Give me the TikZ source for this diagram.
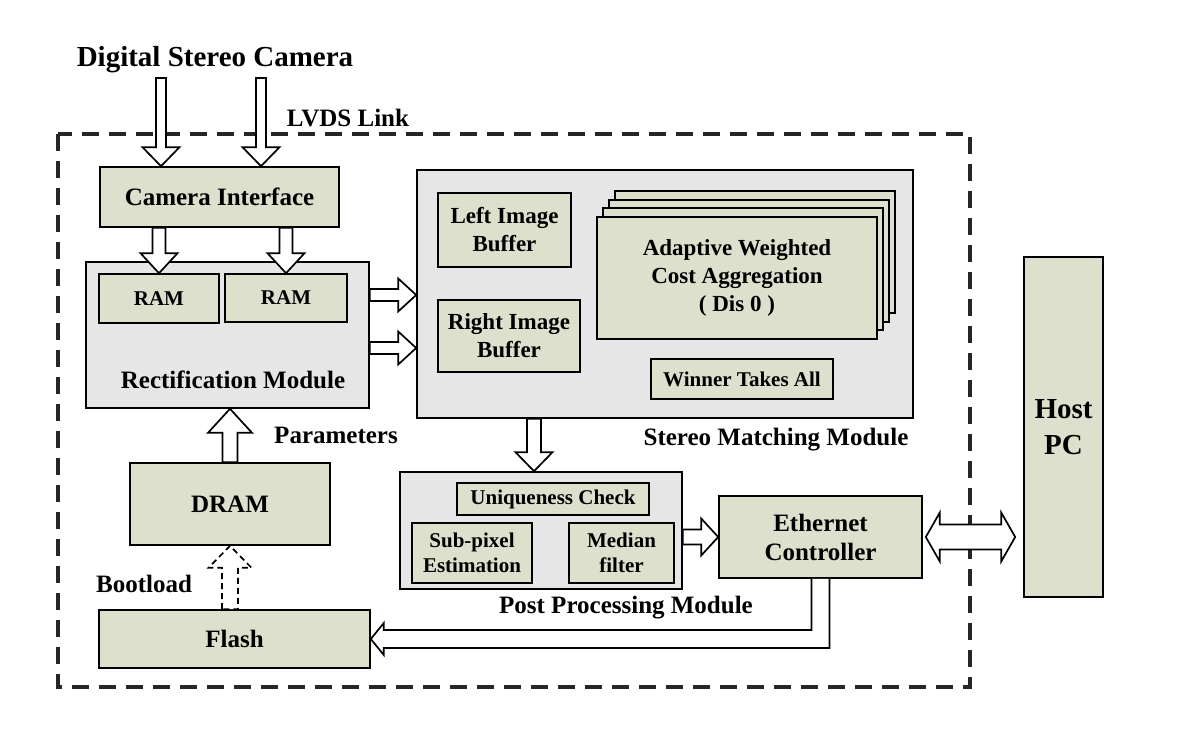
\documentclass[tikz,border=0pt]{standalone}
\usepackage{fontspec}
\setmainfont{Liberation Serif}
\usetikzlibrary{calc}
\definecolor{boxgreen}{RGB}{221,224,204}
\definecolor{modgray}{RGB}{230,230,230}
\tikzset{
  fa/.style={font=\bfseries\fontsize{25}{29}\selectfont},
  fb/.style={font=\bfseries\fontsize{23}{28}\selectfont},
  fc/.style={font=\bfseries\fontsize{21}{25}\selectfont},
  fd/.style={font=\bfseries\fontsize{29}{36}\selectfont},
  gbox/.style={draw=black, line width=1.6pt, fill=boxgreen, align=center, inner sep=0pt, fa},
  mbox/.style={draw=black, line width=1.6pt, fill=modgray, inner sep=0pt},
  lbl/.style={anchor=base, inner sep=0pt, fa},
  frame/.style={draw=black!85, line width=4pt, dash pattern=on 17pt off 10pt},
  blockarrow/.style={draw=black, line width=1.7pt, fill=white, line join=miter},
}
% #1 options, #2 start, #3 tip, #4 shaft half width, #5 head half width, #6 head length
\newcommand\barrow[6][]{%
  \coordinate (baS) at (#2);
  \coordinate (baT) at (#3);
  \coordinate (baB) at ($(baT)!#6!(baS)$);
  \draw[blockarrow,#1] ($(baS)!#4!90:(baT)$) -- ($(baB)!#4!90:(baT)$) -- ($(baB)!#5!90:(baT)$)
    -- (baT) -- ($(baB)!#5!-90:(baT)$) -- ($(baB)!#4!-90:(baT)$) -- ($(baS)!#4!-90:(baT)$) -- cycle;}
% #1 start, #2 end, #3 shaft half width, #4 head half width, #5 head length
\newcommand\dbarrow[5]{%
  \coordinate (baS) at (#1);
  \coordinate (baT) at (#2);
  \coordinate (baP) at ($(baS)!#5!(baT)$);
  \coordinate (baQ) at ($(baT)!#5!(baS)$);
  \draw[blockarrow] (baS) -- ($(baP)!#4!90:(baT)$) -- ($(baP)!#3!90:(baT)$) -- ($(baQ)!#3!-90:(baS)$)
    -- ($(baQ)!#4!-90:(baS)$) -- (baT) -- ($(baQ)!#4!90:(baS)$) -- ($(baQ)!#3!90:(baS)$)
    -- ($(baP)!#3!-90:(baT)$) -- ($(baP)!#4!-90:(baT)$) -- cycle;}
\begin{document}
\begin{tikzpicture}[x=1pt,y=-1pt]
\fill[white] (0,0) rectangle (1200,738);
\useasboundingbox (0,0) rectangle (1200,738);
% outer dashed frame
\draw[frame] (58,134) rectangle (970,687);
% labels
\node[lbl,fd] (title) at (215,67) {Digital Stereo Camera};
\node[lbl] (lvds) at (348,127) {LVDS Link};
% camera interface and rectification
\node[gbox, minimum width=239pt, minimum height=60pt] (cam) at (219.5,197) {Camera Interface};
\node[mbox, minimum width=283pt, minimum height=146pt] (rect) at (227.5,335) {};
\node[gbox,fc, minimum width=120pt, minimum height=49pt] (ram1) at (159,298.5) {RAM};
\node[gbox,fc, minimum width=122pt, minimum height=48pt] (ram2) at (286,298) {RAM};
\node[lbl] (rectlbl) at (233,388) {Rectification Module};
% stereo matching
\node[mbox, minimum width=496pt, minimum height=248pt] (stereo) at (665,294) {};
\node[gbox,fb, minimum width=133pt, minimum height=74pt] (lib) at (504.5,230) {Left Image\\Buffer};
\node[gbox,fb, minimum width=142pt, minimum height=72pt] (rib) at (509,336) {Right Image\\Buffer};
\node[gbox, minimum width=280pt, minimum height=122pt] (aw3) at (755,252) {};
\node[gbox, minimum width=280pt, minimum height=122pt] (aw2) at (749,261) {};
\node[gbox, minimum width=280pt, minimum height=122pt] (aw1) at (743,269) {};
\node[gbox,fb, minimum width=280pt, minimum height=122pt] (awca) at (737,278) {Adaptive Weighted\\Cost Aggregation\\( Dis 0 )};
\node[gbox,fc, minimum width=182pt, minimum height=40pt] (wta) at (742,379) {Winner Takes All};
\node[lbl] (smlbl) at (776,445) {Stereo Matching Module};
% post processing
\node[mbox, minimum width=282pt, minimum height=117pt] (post) at (541,530.5) {};
\node[gbox,fc, minimum width=192pt, minimum height=32pt] (uniq) at (553,499) {Uniqueness Check};
\node[gbox,fc, minimum width=120pt, minimum height=60pt] (sub) at (472,553) {Sub-pixel\\Estimation};
\node[gbox,fc, minimum width=105pt, minimum height=60pt] (med) at (621.5,553) {Median\\filter};
\node[lbl] (pplbl) at (626,613) {Post Processing Module};
% ethernet, host
\node[gbox, minimum width=203pt, minimum height=82pt] (eth) at (820.5,537) {Ethernet\\Controller};
\node[gbox,fd, minimum width=79pt, minimum height=340pt] (host) at (1063.5,427) {Host\\PC};
% memory
\node[gbox, minimum width=200pt, minimum height=82pt] (dram) at (230,504) {DRAM};
\node[gbox, minimum width=271pt, minimum height=58pt] (flash) at (234.5,639) {Flash};
\node[lbl] (params) at (336,443) {Parameters};
\node[lbl] (boot) at (144,592) {Bootload};
% helper coordinates
\coordinate (in1) at (161,78);
\coordinate (in2) at (261,78);
\coordinate (r1) at (0,295);
\coordinate (r2) at (0,348);
\coordinate (sp) at (534,0);
% arrows
\barrow{in1}{cam.north -| in1}{5pt}{18.5pt}{19pt}
\barrow{in2}{cam.north -| in2}{5pt}{18.5pt}{19pt}
\barrow{cam.south -| ram1}{ram1.north}{6.5pt}{18.5pt}{20pt}
\barrow{cam.south -| ram2}{ram2.north}{6.5pt}{18.5pt}{20pt}
\barrow{rect.east |- r1}{stereo.west |- r1}{6pt}{16.5pt}{18pt}
\barrow{rect.east |- r2}{stereo.west |- r2}{6pt}{16.5pt}{18pt}
\barrow{stereo.south -| sp}{post.north -| sp}{7pt}{18.5pt}{19pt}
\barrow{dram.north}{rect.south -| dram.north}{7.5pt}{22pt}{24pt}
\barrow[dash pattern=on 6pt off 4pt]{flash.north -| dram}{dram.south}{8pt}{21.5pt}{22pt}
\barrow{post.east |- eth.west}{eth.west}{7.5pt}{18.5pt}{17pt}
\dbarrow{$(eth.east)+(3,0)$}{$(host.west |- eth.east)+(-8,0)$}{12.5pt}{24.5pt}{14pt}
\draw[blockarrow] ($(eth.south)+(-9,0)$) |- ($(flash.east)+(13,-9)$) -- ($(flash.east)+(13,-16)$)
  -- (flash.east) -- ($(flash.east)+(13,16)$) -- ($(flash.east)+(13,9)$) -| ($(eth.south)+(9,0)$);
\end{tikzpicture}
\end{document}
